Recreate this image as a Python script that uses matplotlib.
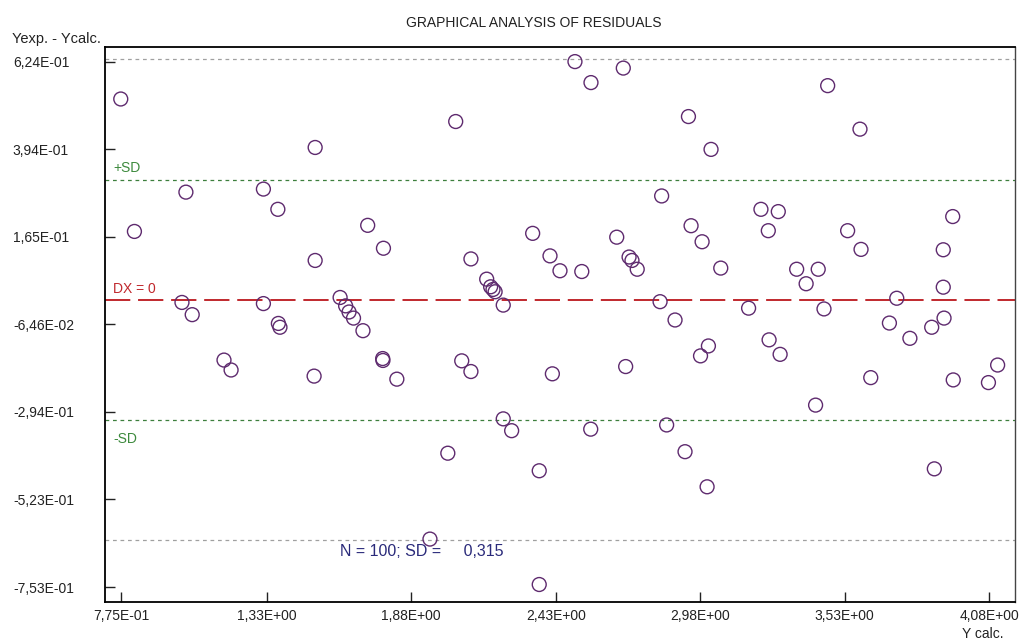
import matplotlib.pyplot as plt

plt.rcParams['font.family'] = ['Liberation Sans', 'DejaVu Sans']

# residuals: Y calc. vs (Yexp. - Ycalc.)
y_calc = [0.774, 0.826, 1.007, 1.022, 1.046, 1.167, 1.194, 1.317, 1.317, 1.372,
          1.374, 1.380, 1.514, 1.514, 1.510, 1.609, 1.630, 1.643, 1.660, 1.696,
          1.714, 1.771, 1.772, 1.774, 1.825, 1.951, 2.019, 2.049, 2.072, 2.107,
          2.107, 2.167, 2.182, 2.191, 2.199, 2.230, 2.230, 2.262, 2.342, 2.367,
          2.367, 2.408, 2.417, 2.446, 2.503, 2.529, 2.564, 2.563, 2.662, 2.687,
          2.696, 2.709, 2.720, 2.740, 2.827, 2.833, 2.852, 2.884, 2.922, 2.935,
          2.945, 2.981, 2.987, 3.011, 3.021, 3.006, 3.058, 3.164, 3.211, 3.239,
          3.242, 3.277, 3.284, 3.347, 3.383, 3.419, 3.429, 3.451, 3.465, 3.541,
          3.588, 3.592, 3.629, 3.700, 3.728, 3.778, 3.861, 3.871, 3.905, 3.905,
          3.908, 3.941, 3.943, 4.077, 4.112]
resid = [0.526, 0.179, -0.007, 0.282, -0.039, -0.158, -0.184, 0.290, -0.010, 0.237,
         -0.062, -0.072, 0.399, 0.103, -0.200, 0.006, -0.016, -0.032, -0.048, -0.081,
         0.195, -0.154, -0.159, 0.135, -0.208, -0.627, -0.402, 0.467, -0.160, 0.107,
         -0.188, 0.054, 0.034, 0.027, 0.021, -0.014, -0.312, -0.343, 0.174, -0.448,
         -0.746, 0.115, -0.194, 0.076, 0.624, 0.074, 0.569, -0.339, 0.164, 0.607,
         -0.175, 0.112, 0.103, 0.080, -0.005, 0.272, -0.328, -0.053, -0.398, 0.480,
         0.194, -0.147, 0.152, -0.121, 0.394, -0.490, 0.083, -0.022, 0.237, 0.181,
         -0.105, 0.231, -0.143, 0.080, 0.042, -0.276, 0.080, -0.024, 0.561, 0.181,
         0.447, 0.132, -0.204, -0.061, 0.004, -0.101, -0.072, -0.443, 0.131, 0.033,
         -0.048, 0.218, -0.210, -0.217, -0.171]

n = 100
sd = 0.315

x_ticks = [0.775, 1.33, 1.88, 2.43, 2.98, 3.53, 4.08]
x_labels = ['7,75E-01', '1,33E+00', '1,88E+00', '2,43E+00', '2,98E+00', '3,53E+00', '4,08E+00']
y_ticks = [0.624, 0.394, 0.165, -0.0646, -0.294, -0.523, -0.753]
y_labels = ['6,24E-01', '3,94E-01', '1,65E-01', '-6,46E-02', '-2,94E-01', '-5,23E-01', '-7,53E-01']

fig = plt.figure(figsize=(10.34, 6.39), dpi=100)
ax = fig.add_axes([0.1018, 0.0584, 0.8798, 0.8685])

# reference lines
ax.axhline(2 * sd, color='#a0a0a0', lw=0.9, dashes=(3, 3), zorder=1)
ax.axhline(-2 * sd, color='#a0a0a0', lw=0.9, dashes=(3, 3), zorder=1)
ax.axhline(sd, color='#3d7f3d', lw=0.9, dashes=(3, 3), zorder=1)
ax.axhline(-sd, color='#3d7f3d', lw=0.9, dashes=(3, 3), zorder=1)
ax.axhline(0, color='#c0282d', lw=1.4, dashes=(13, 4), zorder=1)

ax.scatter(y_calc, resid, s=100, facecolors='none', edgecolors='#5e2a6e',
           linewidths=1.0, zorder=3)

ax.annotate('+SD', xy=(0.009, sd), xycoords=('axes fraction', 'data'),
            xytext=(0, 3), textcoords='offset points', va='bottom',
            color='#3d8a3d', fontsize=10)
ax.annotate('-SD', xy=(0.009, -sd), xycoords=('axes fraction', 'data'),
            xytext=(0, -9), textcoords='offset points', va='top',
            color='#3d8a3d', fontsize=10)
ax.annotate('DX = 0', xy=(0.009, 0), xycoords=('axes fraction', 'data'),
            xytext=(0, 2.5), textcoords='offset points', va='bottom',
            color='#c0282d', fontsize=10)
ax.text(0.258, 0.0896, f'N = {n}; SD =     {sd:.3f}'.replace('.', ','),
        transform=ax.transAxes, va='center', ha='left', color='#2a2a7a', fontsize=11.5)

ax.set_xlim(0.715, 4.178)
ax.set_ylim(-0.791, 0.663)
ax.set_xticks(x_ticks)
ax.set_xticklabels(x_labels)
ax.set_yticks(y_ticks)
ax.set_yticklabels(y_labels)
ax.tick_params(direction='in', length=7, width=1, labelsize=10, colors='#222222')
ax.tick_params(axis='x', pad=5)
ax.tick_params(axis='y', pad=66.5)
for lab in ax.get_yticklabels():
    lab.set_horizontalalignment('left')

for side in ['left', 'bottom', 'top']:
    ax.spines[side].set_linewidth(1.3)
    ax.spines[side].set_color('black')
ax.spines['right'].set_linewidth(1.0)
ax.spines['right'].set_color('#444444')

fig.text(0.5165, 1 - 23 / 639, 'GRAPHICAL ANALYSIS OF RESIDUALS',
         ha='center', va='center', fontsize=10, color='#222222')
fig.text(12 / 1034, 1 - 39 / 639, 'Yexp. - Ycalc.', ha='left', va='center',
         fontsize=10.5, color='#222222')
fig.text(962 / 1034, 1 - 634 / 639, 'Y calc.', ha='left', va='center',
         fontsize=10, color='#222222')

fig.savefig('out.png', dpi=100)
